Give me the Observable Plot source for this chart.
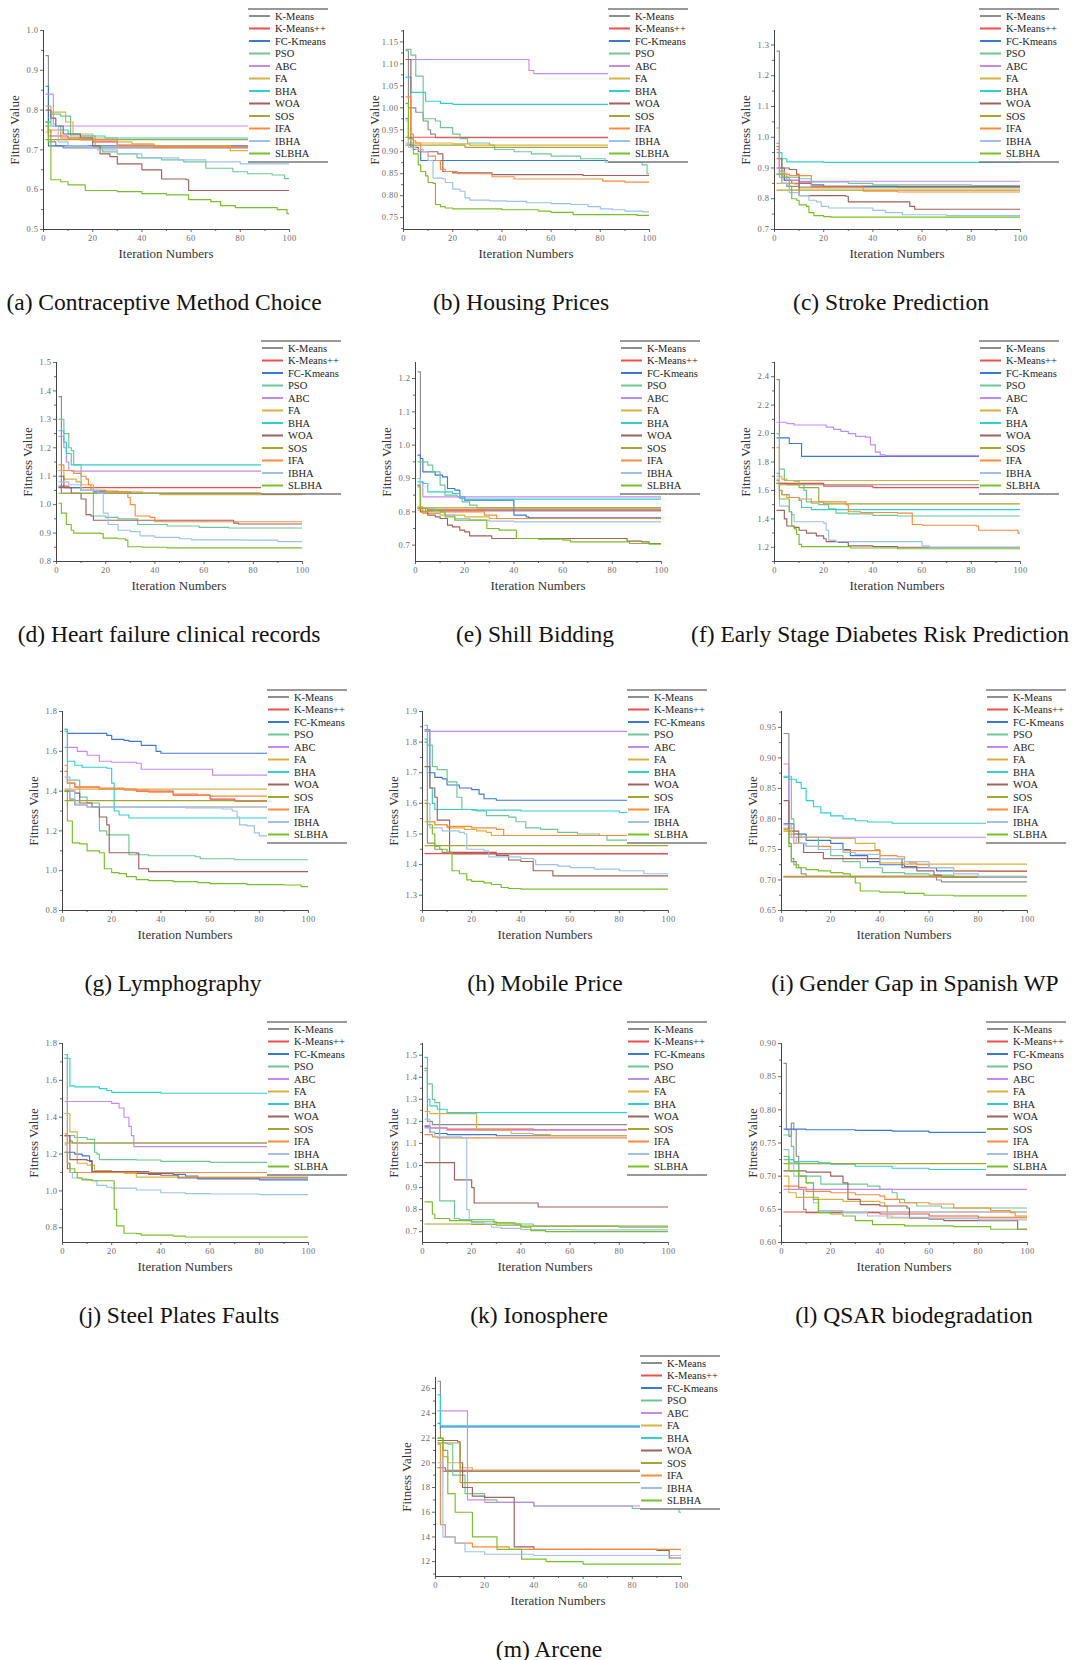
<!DOCTYPE html>
<html><head><meta charset="utf-8">
<script src="https://cdn.jsdelivr.net/npm/d3@7"></script>
<script src="https://cdn.jsdelivr.net/npm/@observablehq/plot@0.6"></script>
<style>
body{margin:0;background:#fff;}
#root{position:relative;width:1075px;height:1660px;overflow:hidden;font-family:"Liberation Serif","Times New Roman",serif;background:#fff;}
.cap{position:absolute;transform:translate(-50%,-50%);white-space:nowrap;font-size:23.5px;color:#111;}
.xt{position:absolute;transform:translate(-50%,-50%);font-size:13px;color:#333;white-space:nowrap;}
.yt{position:absolute;transform:translate(-50%,-50%) rotate(-90deg);font-size:13px;color:#333;white-space:nowrap;}
.abs{position:absolute;}
</style></head><body><div id="root"></div>
<script>
// Series order in every panel
const methods = ["K-Means","K-Means++","FC-Kmeans","PSO","ABC","FA","BHA","WOA","SOS","IFA","IBHA","SLBHA"];
const colors = ["#8e8e8e","#f24c4c","#3a78d8","#6cc793","#c58af0","#dcb040","#2fd0d0","#a0605c","#a5a530","#ff8a3a","#9cc2ec","#78c028"];

const captions = ["(a) Contraceptive Method Choice","(b) Housing Prices","(c) Stroke Prediction",
  "(d) Heart failure clinical records","(e) Shill Bidding","(f) Early Stage Diabetes Risk Prediction",
  "(g) Lymphography","(h) Mobile Price","(i) Gender Gap in Spanish WP",
  "(j) Steel Plates Faults","(k) Ionosphere","(l) QSAR biodegradation","(m) Arcene"];

const xTicks = [0,20,40,60,80,100];
const yDomains = [[0.5,1.0],[0.723,1.176],[0.7,1.347],[0.8,1.5],[0.651,1.248],[1.1,2.5],[0.8,1.8],[1.25,1.9],[0.65,0.976],[0.72,1.8],[0.651,1.553],[0.6,0.9],[10.8,26.9]];
const yTicks = [
  [0.5,0.6,0.7,0.8,0.9,1.0],
  [0.75,0.8,0.85,0.9,0.95,1.0,1.05,1.1,1.15],
  [0.7,0.8,0.9,1.0,1.1,1.2,1.3],
  [0.8,0.9,1.0,1.1,1.2,1.3,1.4,1.5],
  [0.7,0.8,0.9,1.0,1.1,1.2],
  [1.2,1.4,1.6,1.8,2.0,2.2,2.4],
  [0.8,1.0,1.2,1.4,1.6,1.8],
  [1.3,1.4,1.5,1.6,1.7,1.8,1.9],
  [0.65,0.7,0.75,0.8,0.85,0.9,0.95],
  [0.8,1.0,1.2,1.4,1.6,1.8],
  [0.7,0.8,0.9,1.0,1.1,1.2,1.3,1.4,1.5],
  [0.6,0.65,0.7,0.75,0.8,0.85,0.9],
  [12,14,16,18,20,22,24,26]];
const yDecimals = [1,2,1,1,1,1,1,1,2,1,1,2,0];

// each series: iteration, value, iteration, value, ...
const panelA = [
 [1,.937, 2,.75, 3,.72, 5,.71, 8,.705, 100,.705],
 [1,.76, 2,.735, 10,.73, 20,.72, 30,.712, 45,.707, 100,.706],
 [1,.86, 2,.71, 100,.71],
 [1,.77, 3,.79, 7,.785, 11,.735, 21,.71, 24,.695, 30,.69, 38,.68, 48,.675, 57,.67, 66,.654, 77,.645, 83,.64, 93,.637, 98,.628, 100,.628],
 [1,.84, 4,.765, 5,.76, 100,.76],
 [1,.81, 3,.795, 9,.77, 12,.74, 20,.73, 30,.72, 36,.715, 45,.71, 76,.698, 100,.697],
 [1,.77, 3,.76, 7,.75, 10,.74, 15,.735, 25,.73, 100,.728],
 [1,.80, 3,.78, 5,.76, 8,.74, 15,.73, 20,.71, 23,.69, 27,.683, 30,.665, 40,.65, 48,.627, 58,.625, 59,.598, 100,.598],
 [1,.726, 100,.726],
 [1,.745, 3,.75, 7,.73, 15,.725, 30,.71, 45,.707, 100,.705],
 [1,.76, 6,.72, 10,.71, 18,.705, 22,.70, 30,.69, 40,.68, 55,.675, 66,.67, 80,.665, 100,.665],
 [1,.77, 2,.72, 3,.625, 7,.62, 10,.612, 17,.598, 30,.595, 40,.59, 50,.587, 59,.575, 68,.57, 72,.56, 78,.555, 95,.55, 99,.54, 100,.54]];
const panelB = [
 [1,1.13, 2,1.0, 5,.99, 8,.97, 10,.95, 11,.94, 13,.932, 100,.932],
 [1,.933, 100,.933],
 [1,.975, 2,.915, 4,.905, 7,.88, 100,.879],
 [1,1.133, 3,1.12, 5,1.072, 8,.975, 13,.97, 15,.955, 20,.94, 23,.93, 26,.92, 35,.915, 37,.905, 45,.90, 52,.895, 60,.89, 72,.884, 82,.876, 97,.87, 99,.85, 100,.85],
 [1,1.11, 51,1.085, 53,1.078, 100,1.078],
 [1,.92, 12,.92, 20,.918, 27,.915, 100,.915],
 [1,1.07, 3,1.035, 9,1.015, 15,1.01, 20,1.008, 100,1.008],
 [1,1.11, 3,.91, 6,.90, 14,.895, 16,.855, 20,.852, 36,.848, 73,.846, 100,.846],
 [1,.915, 25,.91, 100,.909],
 [1,1.025, 3,.94, 4,.925, 5,.92, 7,.90, 10,.89, 13,.88, 15,.86, 17,.855, 22,.85, 36,.843, 45,.838, 81,.833, 90,.831, 100,.831],
 [1,.97, 2,.91, 5,.905, 8,.90, 10,.88, 12,.84, 16,.838, 17,.83, 20,.815, 23,.81, 25,.795, 27,.79, 35,.788, 42,.787, 50,.784, 60,.782, 68,.78, 75,.775, 80,.77, 85,.768, 90,.765, 97,.763, 100,.763],
 [1,1.01, 2,.93, 4,.895, 6,.87, 7,.855, 9,.845, 10,.83, 12,.828, 13,.78, 15,.775, 17,.772, 20,.77, 40,.768, 55,.765, 60,.762, 69,.757, 90,.757, 95,.755, 100,.753]];
const panelC = [
 [1,1.28, 2,.90, 3,.85, 5,.84, 10,.838, 100,.838],
 [1,.97, 2,.88, 4,.86, 7,.85, 15,.84, 100,.838],
 [1,.90, 4,.86, 10,.855, 15,.845, 20,.84, 50,.838, 100,.838],
 [1,1.03, 2,.93, 3,.88, 5,.87, 10,.865, 15,.855, 30,.85, 40,.845, 80,.843, 100,.842],
 [1,.98, 2,.87, 5,.86, 10,.857, 100,.857],
 [1,.85, 8,.848, 10,.835, 100,.832],
 [1,.95, 3,.93, 5,.92, 20,.918, 100,.918],
 [1,.93, 3,.90, 6,.895, 9,.88, 10,.81, 29,.808, 30,.79, 55,.775, 57,.766, 100,.766],
 [1,.828, 100,.826],
 [1,.96, 2,.89, 4,.88, 6,.875, 15,.838, 36,.825, 50,.822, 100,.822],
 [1,.88, 3,.85, 6,.82, 10,.81, 14,.795, 17,.79, 19,.775, 22,.77, 40,.762, 45,.755, 52,.748, 70,.745, 100,.745],
 [1,.88, 3,.87, 6,.84, 7,.80, 9,.795, 10,.78, 13,.775, 14,.755, 16,.745, 20,.742, 23,.74, 100,.74]];
const panelD = [
 [1,1.38, 2,1.04, 100,1.04],
 [1,1.065, 5,1.06, 100,1.06],
 [1,1.06, 10,1.05, 15,1.045, 30,1.04, 100,1.04],
 [1,1.30, 3,1.25, 5,1.20, 6,1.19, 7,1.14, 10,1.05, 15,.96, 20,.955, 25,.95, 33,.93, 45,.925, 58,.92, 70,.918, 100,.915],
 [1,1.24, 3,1.20, 4,1.15, 5,1.12, 6,1.118, 100,1.118],
 [1,1.12, 3,1.09, 8,1.08, 10,1.07, 15,1.05, 20,1.045, 35,1.04, 42,1.035, 100,1.033],
 [1,1.26, 3,1.22, 4,1.18, 6,1.14, 100,1.138],
 [1,1.10, 3,1.06, 6,1.04, 10,1.02, 12,.965, 14,.96, 15,.945, 72,.935, 74,.932, 100,.932],
 [1,1.04, 100,1.04],
 [1,1.14, 3,1.12, 7,1.11, 10,1.10, 12,1.09, 13,1.07, 14,1.05, 20,1.048, 25,1.045, 29,1.025, 30,1.0, 32,.96, 38,.955, 40,.94, 100,.938],
 [1,1.08, 5,1.07, 10,1.05, 17,1.04, 19,.97, 21,.93, 25,.91, 30,.905, 34,.89, 40,.885, 50,.88, 55,.876, 75,.875, 90,.87, 100,.868],
 [1,1.005, 2,.97, 4,.93, 6,.91, 7,.90, 18,.898, 19,.882, 25,.88, 28,.875, 29,.852, 35,.85, 45,.848, 100,.848]];
const panelE = [
 [1,1.22, 2,.81, 4,.803, 100,.803],
 [1,.81, 5,.806, 100,.806],
 [1,.97, 2,.96, 3,.92, 8,.91, 11,.905, 13,.87, 16,.865, 18,.845, 20,.835, 40,.79, 45,.785, 46,.782, 100,.78],
 [1,.95, 5,.94, 7,.92, 10,.88, 12,.85, 17,.845, 19,.83, 22,.82, 25,.812, 100,.81],
 [1,.90, 2,.89, 3,.845, 100,.843],
 [1,.805, 3,.795, 10,.79, 20,.785, 30,.78, 100,.778],
 [1,.89, 3,.885, 5,.86, 15,.855, 18,.84, 20,.838, 100,.838],
 [1,.88, 2,.80, 5,.79, 8,.785, 10,.78, 13,.76, 15,.755, 18,.745, 20,.74, 22,.728, 31,.72, 86,.712, 92,.71, 95,.705, 100,.705],
 [1,.812, 100,.812],
 [1,.815, 3,.80, 28,.79, 33,.78, 100,.778],
 [1,.90, 2,.81, 8,.80, 12,.79, 16,.78, 22,.775, 30,.772, 40,.77, 100,.768],
 [1,.875, 2,.81, 5,.805, 10,.80, 12,.785, 16,.775, 29,.75, 34,.745, 41,.72, 50,.718, 60,.715, 63,.71, 87,.705, 95,.703, 100,.703]];
const panelF = [
 [1,2.38, 2,1.65, 5,1.64, 100,1.64],
 [1,1.65, 20,1.63, 40,1.62, 100,1.62],
 [1,1.97, 6,1.93, 11,1.84, 100,1.84],
 [1,2.0, 2,1.75, 4,1.67, 8,1.665, 10,1.64, 12,1.6, 13,1.52, 15,1.51, 18,1.50, 22,1.47, 25,1.44, 30,1.435, 40,1.425, 50,1.42, 100,1.42],
 [1,2.08, 5,2.07, 8,2.06, 21,2.045, 24,2.03, 27,2.015, 30,2.0, 33,1.98, 37,1.975, 39,1.92, 41,1.87, 43,1.85, 45,1.845, 100,1.84],
 [1,1.70, 3,1.68, 5,1.67, 100,1.67],
 [1,1.72, 2,1.60, 3,1.57, 6,1.55, 10,1.53, 11,1.48, 15,1.465, 100,1.465],
 [1,1.46, 4,1.40, 5,1.35, 8,1.34, 10,1.32, 13,1.30, 17,1.28, 20,1.26, 21,1.24, 26,1.235, 30,1.21, 40,1.205, 50,1.20, 100,1.20],
 [1,1.67, 2,1.64, 10,1.62, 18,1.52, 20,1.505, 100,1.505],
 [1,1.90, 2,1.60, 3,1.57, 5,1.55, 10,1.54, 15,1.52, 29,1.50, 30,1.45, 35,1.445, 50,1.44, 56,1.36, 60,1.355, 82,1.35, 83,1.32, 99,1.30, 100,1.29],
 [1,1.68, 2,1.49, 6,1.45, 7,1.43, 8,1.38, 20,1.37, 21,1.32, 22,1.25, 25,1.24, 60,1.21, 63,1.20, 100,1.195],
 [1,1.65, 2,1.54, 6,1.45, 7,1.35, 8,1.33, 9,1.29, 10,1.22, 11,1.205, 31,1.195, 50,1.19, 100,1.185]];
const panelG = [
 [1,1.40, 3,1.36, 5,1.33, 10,1.32, 100,1.32],
 [1,1.50, 2,1.44, 5,1.42, 15,1.41, 30,1.40, 45,1.38, 60,1.36, 70,1.35, 100,1.345],
 [1,1.71, 2,1.69, 15,1.69, 18,1.68, 20,1.66, 25,1.655, 27,1.65, 32,1.63, 38,1.60, 40,1.59, 100,1.585],
 [1,1.71, 2,1.455, 7,1.37, 10,1.34, 15,1.20, 18,1.18, 27,1.08, 35,1.075, 54,1.07, 56,1.06, 70,1.055, 100,1.055],
 [1,1.62, 6,1.60, 10,1.58, 15,1.55, 20,1.545, 30,1.54, 32,1.51, 61,1.48, 100,1.48],
 [1,1.41, 100,1.405],
 [1,1.70, 2,1.55, 5,1.53, 8,1.52, 18,1.515, 20,1.44, 21,1.30, 23,1.28, 27,1.265, 100,1.262],
 [1,1.40, 5,1.39, 7,1.34, 12,1.32, 15,1.27, 18,1.23, 19,1.09, 30,1.088, 31,1.01, 35,.995, 100,.995],
 [1,1.352, 100,1.352],
 [1,1.53, 2,1.44, 5,1.42, 15,1.415, 25,1.405, 35,1.395, 45,1.385, 55,1.38, 60,1.375, 100,1.372],
 [1,1.47, 3,1.40, 5,1.34, 7,1.33, 10,1.32, 30,1.318, 50,1.315, 65,1.31, 69,1.30, 71,1.27, 72,1.23, 75,1.225, 78,1.19, 80,1.175, 100,1.17],
 [1,1.40, 2,1.25, 4,1.14, 7,1.135, 10,1.10, 15,1.09, 17,1.01, 20,.99, 23,.985, 26,.97, 30,.955, 35,.95, 45,.945, 55,.94, 60,.935, 75,.93, 90,.928, 97,.92, 100,.915]];
const panelH = [
 [1,1.80, 2,1.47, 5,1.45, 8,1.44, 12,1.435, 100,1.435],
 [1,1.436, 100,1.436],
 [1,1.84, 3,1.70, 5,1.685, 8,1.68, 10,1.66, 15,1.65, 20,1.645, 23,1.63, 25,1.615, 30,1.61, 100,1.61],
 [1,1.855, 2,1.79, 4,1.72, 6,1.71, 10,1.67, 14,1.62, 16,1.58, 22,1.575, 26,1.56, 35,1.555, 38,1.54, 42,1.52, 48,1.515, 55,1.505, 63,1.50, 72,1.495, 75,1.48, 100,1.478],
 [1,1.835, 100,1.835],
 [1,1.54, 5,1.53, 10,1.52, 17,1.515, 22,1.51, 26,1.505, 28,1.495, 100,1.495],
 [1,1.81, 2,1.70, 3,1.65, 4,1.60, 5,1.58, 20,1.578, 40,1.575, 80,1.57, 100,1.57],
 [1,1.72, 3,1.65, 5,1.62, 6,1.545, 11,1.44, 30,1.43, 35,1.415, 40,1.41, 45,1.38, 53,1.363, 100,1.363],
 [1,1.462, 100,1.462],
 [1,1.61, 2,1.54, 5,1.53, 10,1.525, 20,1.52, 30,1.515, 33,1.495, 100,1.495],
 [1,1.60, 3,1.52, 8,1.51, 15,1.505, 17,1.50, 18,1.45, 25,1.445, 27,1.425, 40,1.42, 45,1.415, 46,1.40, 55,1.395, 60,1.39, 70,1.385, 80,1.38, 90,1.37, 100,1.365],
 [1,1.60, 2,1.53, 4,1.50, 5,1.46, 7,1.45, 10,1.44, 12,1.38, 15,1.37, 18,1.35, 20,1.345, 25,1.34, 28,1.335, 32,1.325, 35,1.322, 40,1.32, 100,1.32]];
const panelI = [
 [1,.94, 3,.76, 4,.73, 6,.72, 8,.71, 10,.706, 63,.70, 65,.697, 100,.697],
 [1,.705, 100,.705],
 [1,.792, 5,.775, 10,.765, 20,.76, 25,.75, 28,.74, 35,.73, 40,.725, 50,.722, 55,.72, 63,.715, 80,.714, 100,.713],
 [1,.87, 4,.80, 5,.775, 8,.77, 15,.75, 20,.74, 25,.73, 32,.72, 41,.712, 50,.71, 60,.708, 70,.705, 100,.703],
 [1,.89, 3,.77, 100,.768],
 [1,.785, 5,.77, 20,.768, 30,.76, 38,.75, 40,.728, 50,.726, 100,.725],
 [1,.868, 3,.865, 6,.86, 8,.85, 10,.83, 13,.82, 16,.81, 20,.805, 25,.80, 30,.797, 35,.795, 45,.793, 100,.793],
 [1,.83, 3,.78, 7,.76, 9,.745, 17,.735, 49,.72, 55,.715, 62,.708, 65,.705, 100,.705],
 [1,.706, 100,.706],
 [1,.783, 3,.775, 5,.76, 10,.755, 20,.75, 25,.748, 40,.74, 47,.738, 50,.73, 52,.728, 55,.725, 60,.72, 70,.715, 100,.715],
 [1,.79, 4,.77, 6,.76, 10,.755, 15,.75, 25,.745, 30,.742, 40,.735, 50,.73, 60,.72, 70,.71, 80,.705, 100,.705],
 [1,.78, 3,.755, 4,.735, 5,.725, 7,.72, 10,.717, 15,.715, 20,.712, 25,.71, 28,.705, 30,.695, 32,.682, 40,.68, 50,.678, 58,.675, 70,.674, 100,.673]];
const panelJ = [
 [1,1.72, 2,1.30, 3,1.27, 4,1.26, 100,1.26],
 [1,1.30, 2,1.12, 3,1.10, 100,1.10],
 [1,1.21, 5,1.20, 8,1.19, 11,1.16, 12,1.105, 20,1.10, 30,1.095, 45,1.09, 50,1.08, 55,1.065, 80,1.06, 100,1.055],
 [1,1.74, 2,1.30, 5,1.29, 10,1.28, 13,1.21, 14,1.20, 15,1.17, 30,1.168, 40,1.16, 60,1.155, 100,1.155],
 [1,1.485, 18,1.485, 20,1.475, 23,1.45, 25,1.40, 27,1.35, 28,1.30, 29,1.24, 100,1.24],
 [1,1.42, 3,1.32, 6,1.15, 10,1.14, 13,1.11, 20,1.10, 25,1.095, 30,1.075, 100,1.075],
 [1,1.72, 3,1.57, 5,1.565, 15,1.555, 18,1.545, 20,1.535, 40,1.53, 100,1.528],
 [1,1.30, 3,1.17, 10,1.165, 12,1.105, 35,1.09, 40,1.085, 47,1.07, 100,1.07],
 [1,1.26, 100,1.26],
 [1,1.31, 2,1.15, 3,1.10, 100,1.10],
 [1,1.25, 2,1.15, 3,1.10, 4,1.07, 8,1.065, 10,1.06, 12,1.055, 14,1.03, 18,1.02, 20,1.015, 30,1.005, 40,.99, 50,.985, 60,.983, 80,.98, 100,.978],
 [1,1.21, 2,1.15, 3,1.12, 5,1.10, 6,1.07, 8,1.06, 12,1.055, 21,.90, 22,.81, 25,.77, 30,.768, 32,.76, 45,.755, 50,.75, 100,.749]];
const panelK = [
 [1,1.44, 2,1.20, 4,1.185, 100,1.185],
 [1,1.18, 3,1.17, 10,1.165, 45,1.162, 100,1.16],
 [1,1.175, 3,1.15, 5,1.145, 10,1.14, 30,1.135, 100,1.135],
 [1,1.43, 2,1.37, 4,1.30, 5,1.285, 7,.84, 13,.76, 15,.755, 29,.74, 38,.735, 45,.725, 80,.72, 100,.715],
 [1,1.17, 10,1.16, 100,1.158],
 [1,1.245, 3,1.235, 22,1.16, 36,1.145, 45,1.14, 52,1.135, 100,1.135],
 [1,1.49, 2,1.30, 3,1.27, 6,1.255, 10,1.24, 100,1.238],
 [1,1.013, 13,.935, 20,.90, 21,.83, 47,.812, 100,.812],
 [1,.735, 20,.733, 30,.73, 40,.725, 100,.725],
 [1,1.14, 4,1.13, 6,1.125, 100,1.125],
 [1,1.21, 3,1.15, 5,1.13, 16,1.125, 18,.80, 19,.75, 20,.74, 25,.735, 28,.72, 32,.715, 40,.71, 60,.708, 100,.705],
 [1,.835, 4,.78, 5,.76, 11,.75, 20,.745, 30,.74, 37,.735, 40,.72, 44,.705, 50,.70, 100,.70]];
const panelL = [
 [1,.87, 2,.77, 3,.76, 4,.78, 5,.77, 6,.73, 7,.68, 9,.65, 10,.646, 100,.646],
 [1,.646, 10,.645, 40,.643, 60,.64, 80,.638, 100,.636],
 [1,.771, 10,.77, 30,.769, 45,.768, 60,.766, 100,.766],
 [1,.762, 4,.745, 5,.72, 7,.70, 16,.688, 35,.685, 40,.68, 45,.675, 47,.665, 50,.66, 55,.655, 65,.652, 100,.651],
 [1,.68, 100,.68],
 [1,.70, 3,.675, 6,.668, 15,.665, 25,.662, 40,.66, 42,.655, 43,.637, 100,.637],
 [1,.725, 5,.722, 15,.72, 20,.718, 30,.715, 45,.712, 60,.71, 100,.71],
 [1,.708, 10,.706, 20,.70, 25,.69, 27,.665, 32,.657, 40,.655, 51,.652, 52,.637, 60,.635, 66,.633, 96,.62, 100,.618],
 [1,.719, 100,.719],
 [1,.685, 7,.683, 10,.677, 20,.675, 30,.672, 40,.67, 42,.665, 48,.66, 60,.658, 70,.652, 85,.648, 93,.645, 95,.64, 100,.64],
 [1,.74, 3,.72, 5,.70, 10,.69, 13,.66, 15,.648, 25,.645, 35,.64, 45,.638, 60,.636, 80,.634, 100,.633],
 [1,.73, 3,.708, 7,.70, 10,.69, 13,.665, 15,.645, 20,.643, 25,.64, 30,.633, 37,.627, 50,.625, 70,.624, 85,.62, 100,.617]];
const panelM = [
 [1,26.6, 2,22.0, 3,19.3, 100,19.3],
 [1,19.6, 4,19.4, 100,19.4],
 [1,23.2, 2,22.9, 100,22.8],
 [1,21.6, 5,21.5, 7,19.0, 12,17.5, 20,17.0, 25,16.8, 40,16.5, 80,16.3, 99,16.0, 100,15.8],
 [1,24.2, 13,17.0, 20,16.8, 40,16.5, 100,16.4],
 [1,22.0, 3,20.5, 5,20.0, 10,19.6, 15,19.4, 100,19.3],
 [1,25.5, 2,23.0, 100,22.8],
 [1,21.8, 9,21.7, 10,20.0, 11,18.0, 15,17.3, 20,17.2, 32,13.2, 40,13.0, 90,12.9, 95,12.3, 100,12.2],
 [1,21.6, 10,18.4, 100,18.3],
 [1,21.5, 2,15.0, 4,14.0, 8,13.5, 15,13.2, 30,13.0, 100,12.9],
 [1,20.0, 3,14.0, 8,13.5, 12,12.8, 20,12.6, 40,12.5, 100,12.3],
 [1,22.0, 3,21.0, 5,17.5, 8,16.0, 15,14.0, 25,13.0, 35,12.2, 45,12.0, 60,11.8, 100,11.7]];

const panels = [panelA,panelB,panelC,panelD,panelE,panelF,panelG,panelH,panelI,panelJ,panelK,panelL,panelM];

// layout (plot-area left/top, caption centre x)
const layout = [
 {l:43,t:30,cx:164},{l:403,t:30,cx:521},{l:774,t:30,cx:891},
 {l:56,t:362,cx:169},{l:415,t:362,cx:535},{l:774,t:362,cx:880},
 {l:62,t:711,cx:173},{l:422,t:711,cx:545},{l:781,t:711,cx:915},
 {l:62,t:1043,cx:179},{l:422,t:1043,cx:539},{l:781,t:1043,cx:914},
 {l:435,t:1377,cx:549}];

const root = document.getElementById("root");
const ML=42, MR=8, MT=6, MB=22, W=246, H=199;
function pairs(a){const out=[];for(let i=0;i<a.length;i+=2)out.push({x:a[i],y:a[i+1]});return out;}

panels.forEach((p,k)=>{
  const L = layout[k], dom = yDomains[k], ticks = yTicks[k], dec = yDecimals[k];
  const step = ticks[1]-ticks[0];
  const minor = [];
  for (let v = ticks[0]-step/2; v <= dom[1]+1e-9; v += step) if (v >= dom[0]-1e-9) minor.push(+v.toFixed(4));
  const lines = p.map((s,i)=>Plot.line(pairs(s), {x:"x", y:"y", curve:"step-after", stroke:colors[i], strokeWidth:1.15, clip:true}));
  const chart = Plot.plot({
    width: ML+W+MR, height: MT+H+MB,
    marginLeft: ML, marginRight: MR, marginTop: MT, marginBottom: MB,
    style: {fontFamily:"Liberation Serif, serif", fontSize:"8.5px", color:"#6a6a6a", background:"transparent", letterSpacing:"0.5px", overflow:"visible"},
    x: {domain:[0,100]},
    y: {domain: dom},
    marks: [
      Plot.axisX(xTicks, {tickSize:3, tickPadding:2, tickFormat:d=>String(d), label:null}),
      Plot.axisX([10,30,50,70,90], {tickSize:2, tickFormat:()=>"", label:null}),
      Plot.axisY(ticks, {tickSize:3, tickPadding:2, tickFormat:d=>d.toFixed(dec), label:null}),
      Plot.axisY(minor, {tickSize:2, tickFormat:()=>"", label:null}),
      ...lines,
      Plot.ruleX([0], {stroke:"#444", strokeWidth:1}),
      Plot.ruleY([dom[0]], {stroke:"#444", strokeWidth:1})
    ]
  });
  chart.classList.add("abs");
  chart.style.left = (L.l-ML)+"px";
  chart.style.top = (L.t-MT)+"px";
  root.appendChild(chart);

  // legend
  const ns = "http://www.w3.org/2000/svg";
  let s = `<svg xmlns="${ns}" width="80" height="157" class="abs" style="left:${L.l+205}px;top:${L.t-22}px;font-family:'Liberation Serif',serif">`;
  s += `<rect x="0" y="1" width="80" height="153" fill="#fff"/>`;
  s += `<line x1="0" x2="80" y1="1" y2="1" stroke="#777" stroke-width="1.3"/>`;
  s += `<line x1="0" x2="80" y1="154" y2="154" stroke="#777" stroke-width="1.3"/>`;
  methods.forEach((m,i)=>{
    const y = 8 + i*12.5;
    s += `<line x1="1" x2="22" y1="${y}" y2="${y}" stroke="${colors[i]}" stroke-width="2"/>`;
    s += `<text x="27" y="${y}" dy="0.35em" font-size="10.5" fill="#222">${m}</text>`;
  });
  s += `</svg>`;
  root.insertAdjacentHTML("beforeend", s);

  const yt = document.createElement("div");
  yt.className = "yt"; yt.textContent = "Fitness Value";
  yt.style.left = (L.l-28)+"px"; yt.style.top = (L.t+100)+"px";
  root.appendChild(yt);
  const xt = document.createElement("div");
  xt.className = "xt"; xt.textContent = "Iteration Numbers";
  xt.style.left = (L.l+123)+"px"; xt.style.top = (L.t+224)+"px";
  root.appendChild(xt);
  const cap = document.createElement("div");
  cap.className = "cap"; cap.textContent = captions[k];
  cap.style.left = L.cx+"px"; cap.style.top = (L.t+272)+"px";
  root.appendChild(cap);
});
</script></body></html>
